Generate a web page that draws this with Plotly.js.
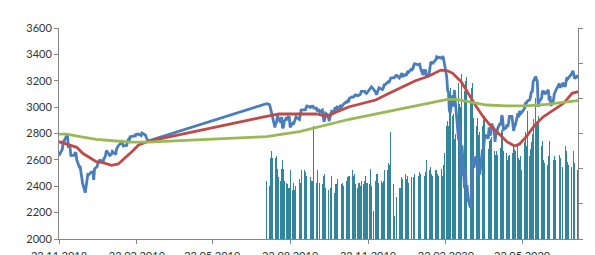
<!DOCTYPE html>
<html>
<head>
<meta charset="utf-8">
<script src="https://cdn.plot.ly/plotly-3.0.1.min.js"></script>
<style>html,body{margin:0;padding:0;background:#fff;}#chart{width:595px;height:255px;}</style>
</head>
<body>
<div id="chart"></div>
<script>
// ---- Data ----
// Price (first stretch)
const priceDates1 = ['2018-11-23','2018-11-26','2018-11-27','2018-11-28','2018-11-29','2018-11-30','2018-12-03','2018-12-04','2018-12-06','2018-12-07','2018-12-10','2018-12-11','2018-12-12','2018-12-13','2018-12-14','2018-12-17','2018-12-18','2018-12-19','2018-12-20','2018-12-21','2018-12-24','2018-12-26','2018-12-27','2018-12-28','2018-12-31','2019-01-02','2019-01-03','2019-01-04','2019-01-07','2019-01-08','2019-01-09','2019-01-10','2019-01-11','2019-01-14','2019-01-15','2019-01-16','2019-01-17','2019-01-18','2019-01-22','2019-01-23','2019-01-24','2019-01-25','2019-01-28','2019-01-29','2019-01-30','2019-01-31','2019-02-01','2019-02-04','2019-02-05','2019-02-06','2019-02-07','2019-02-08','2019-02-11','2019-02-12','2019-02-13','2019-02-14','2019-02-15','2019-02-19','2019-02-20','2019-02-21','2019-02-22','2019-02-25','2019-02-26','2019-02-27','2019-02-28','2019-03-01','2019-03-04','2019-03-05','2019-03-06','2019-03-07','2019-03-08'];
const priceVals1 = [2633,2673,2682,2744,2738,2760,2790,2700,2696,2633,2638,2636,2651,2650,2600,2546,2546,2507,2467,2417,2351,2468,2489,2486,2507,2510,2448,2532,2550,2574,2585,2597,2596,2583,2610,2616,2636,2671,2633,2639,2643,2665,2644,2641,2682,2704,2707,2725,2738,2732,2706,2708,2709,2745,2754,2746,2776,2780,2784,2775,2793,2796,2793,2792,2784,2804,2792,2789,2771,2749,2743];

// Second stretch: trading days shared by price and volume
const dates2 = ['2019-07-26','2019-07-29','2019-07-30','2019-07-31','2019-08-01','2019-08-02','2019-08-05','2019-08-06','2019-08-07','2019-08-08','2019-08-09','2019-08-12','2019-08-13','2019-08-14','2019-08-15','2019-08-16','2019-08-19','2019-08-20','2019-08-21','2019-08-22','2019-08-23','2019-08-26','2019-08-27','2019-08-28','2019-08-29','2019-08-30','2019-09-03','2019-09-04','2019-09-05','2019-09-06','2019-09-09','2019-09-10','2019-09-11','2019-09-12','2019-09-13','2019-09-16','2019-09-17','2019-09-18','2019-09-19','2019-09-20','2019-09-23','2019-09-24','2019-09-25','2019-09-26','2019-09-27','2019-09-30','2019-10-01','2019-10-02','2019-10-03','2019-10-04','2019-10-07','2019-10-08','2019-10-09','2019-10-10','2019-10-11','2019-10-14','2019-10-15','2019-10-16','2019-10-17','2019-10-18','2019-10-21','2019-10-22','2019-10-23','2019-10-24','2019-10-25','2019-10-28','2019-10-29','2019-10-30','2019-10-31','2019-11-01','2019-11-04','2019-11-05','2019-11-06','2019-11-07','2019-11-08','2019-11-11','2019-11-12','2019-11-13','2019-11-14','2019-11-15','2019-11-18','2019-11-19','2019-11-20','2019-11-21','2019-11-22','2019-11-25','2019-11-26','2019-11-27','2019-11-29','2019-12-02','2019-12-03','2019-12-04','2019-12-05','2019-12-06','2019-12-09','2019-12-10','2019-12-11','2019-12-12','2019-12-13','2019-12-16','2019-12-17','2019-12-18','2019-12-19','2019-12-20','2019-12-23','2019-12-24','2019-12-26','2019-12-27','2019-12-30','2019-12-31','2020-01-02','2020-01-03','2020-01-06','2020-01-07','2020-01-08','2020-01-09','2020-01-10','2020-01-13','2020-01-14','2020-01-15','2020-01-16','2020-01-17','2020-01-21','2020-01-22','2020-01-23','2020-01-24','2020-01-27','2020-01-28','2020-01-29','2020-01-30','2020-01-31','2020-02-03','2020-02-04','2020-02-05','2020-02-06','2020-02-07','2020-02-10','2020-02-11','2020-02-12','2020-02-13','2020-02-14','2020-02-18','2020-02-19','2020-02-20','2020-02-21','2020-02-24','2020-02-25','2020-02-26','2020-02-27','2020-02-28','2020-03-02','2020-03-03','2020-03-04','2020-03-05','2020-03-06','2020-03-09','2020-03-10','2020-03-11','2020-03-12','2020-03-13','2020-03-16','2020-03-17','2020-03-18','2020-03-19','2020-03-20','2020-03-23','2020-03-24','2020-03-25','2020-03-26','2020-03-27','2020-03-30','2020-03-31','2020-04-01','2020-04-02','2020-04-03','2020-04-06','2020-04-07','2020-04-08','2020-04-09','2020-04-13','2020-04-14','2020-04-15','2020-04-16','2020-04-17','2020-04-20','2020-04-21','2020-04-22','2020-04-23','2020-04-24','2020-04-27','2020-04-28','2020-04-29','2020-04-30','2020-05-01','2020-05-04','2020-05-05','2020-05-06','2020-05-07','2020-05-08','2020-05-11','2020-05-12','2020-05-13','2020-05-14','2020-05-15','2020-05-18','2020-05-19','2020-05-20','2020-05-21','2020-05-22','2020-05-26','2020-05-27','2020-05-28','2020-05-29','2020-06-01','2020-06-02','2020-06-03','2020-06-04','2020-06-05','2020-06-08','2020-06-09','2020-06-10','2020-06-11','2020-06-12','2020-06-15','2020-06-16','2020-06-17','2020-06-18','2020-06-19','2020-06-22','2020-06-23','2020-06-24','2020-06-25','2020-06-26','2020-06-29','2020-06-30','2020-07-01','2020-07-02','2020-07-06','2020-07-07','2020-07-08','2020-07-09','2020-07-10','2020-07-13','2020-07-14','2020-07-15','2020-07-16','2020-07-17','2020-07-20','2020-07-21','2020-07-22','2020-07-23','2020-07-24','2020-07-27','2020-07-28'];
const priceVals2 = [3026,3021,3013,2980,2954,2932,2845,2882,2884,2938,2919,2883,2926,2840,2848,2889,2924,2900,2925,2923,2847,2878,2869,2888,2924,2926,2906,2938,2977,2979,2979,2979,3000,3009,3007,2998,3006,3006,3007,2992,2992,2967,2985,2977,2962,2977,2941,2888,2910,2953,2939,2893,2920,2938,2970,2966,2996,2990,2998,2986,3007,2996,3005,3010,3023,3040,3037,3047,3038,3067,3078,3075,3077,3085,3093,3087,3092,3094,3097,3120,3122,3120,3108,3104,3110,3134,3141,3154,3141,3114,3093,3113,3117,3146,3135,3133,3142,3169,3169,3192,3193,3191,3206,3221,3224,3223,3240,3240,3221,3231,3258,3235,3246,3237,3253,3275,3265,3288,3283,3289,3317,3330,3321,3321,3326,3295,3244,3276,3273,3284,3226,3249,3298,3334,3345,3328,3352,3358,3380,3374,3380,3370,3386,3373,3338,3226,3128,3116,2979,2954,3090,3003,3130,3024,2972,2747,2882,2741,2481,2711,2386,2529,2398,2409,2305,2237,2447,2476,2630,2541,2627,2585,2471,2527,2489,2664,2660,2750,2790,2762,2846,2784,2800,2875,2823,2737,2799,2798,2837,2878,2863,2940,2912,2830,2843,2868,2849,2882,2930,2930,2870,2820,2853,2864,2954,2922,2972,2949,2955,2992,3036,3030,3044,3056,3081,3123,3112,3194,3232,3207,3190,3002,3041,3067,3125,3113,3115,3098,3118,3131,3050,3084,3009,3053,3100,3116,3130,3180,3145,3169,3152,3185,3155,3197,3227,3216,3225,3251,3257,3276,3236,3216,3239,3218];
const volumes = [3.3,3.1,3.0,4.6,5.0,4.6,5.6,4.6,4.7,4.0,3.5,3.3,4.0,4.5,4.0,3.3,3.2,3.1,2.9,2.9,3.9,2.8,3.2,2.8,3.0,2.9,3.4,3.2,3.9,3.2,3.9,3.8,3.6,3.4,3.1,3.5,3.3,3.3,3.3,6.4,3.2,3.9,3.4,3.2,3.2,3.1,3.6,4.0,3.7,2.9,2.8,3.3,2.7,2.9,3.6,2.6,3.3,3.1,3.1,3.4,3.0,3.4,3.1,3.2,3.0,3.2,3.3,3.5,3.6,3.6,3.8,3.9,3.6,3.7,3.1,2.9,3.2,3.2,3.0,3.3,3.1,3.3,3.6,3.2,3.2,3.1,4.0,3.0,1.6,3.3,3.7,3.7,3.2,3.4,3.3,3.2,3.3,3.9,3.6,3.9,4.3,4.2,3.7,6.1,3.1,1.3,2.2,2.4,2.9,2.9,3.5,3.4,3.7,3.4,3.7,3.6,3.2,3.5,3.7,3.7,3.5,3.7,4.1,3.6,3.8,3.7,3.8,3.5,3.6,3.8,4.5,3.8,3.9,4.1,3.7,3.6,3.4,3.9,3.9,3.7,3.6,4.0,3.6,4.2,4.9,6.4,6.7,6.4,7.3,8.6,7.0,7.1,5.7,6.0,7.1,8.9,7.7,7.5,9.4,8.3,8.4,9.0,9.2,8.7,10.4,7.9,8.6,8.9,8.2,6.9,6.4,6.9,5.9,6.4,6.1,6.4,7.0,5.8,7.0,5.1,5.6,5.2,5.7,5.8,5.0,5.7,4.8,5.0,4.8,5.2,5.7,6.2,6.1,5.0,4.6,4.9,4.5,4.7,4.8,4.6,4.9,5.4,5.1,5.0,5.4,4.6,4.5,4.7,3.9,5.5,6.1,5.3,7.3,4.7,5.1,5.5,6.0,6.8,8.0,6.5,6.6,7.0,5.8,5.3,5.6,4.5,4.3,9.9,4.2,4.7,5.6,4.8,8.1,4.5,4.7,4.5,4.0,4.8,4.6,4.5,4.8,4.1,5.3,5.0,4.9,4.4,4.2,4.1,4.5,4.2,5.0,4.3,3.9,4.2];

// Moving averages (read at intervals)
const redDates = ['2018-11-23','2018-12-02','2018-12-14','2018-12-21','2018-12-30','2019-01-06','2019-01-14','2019-01-24','2019-02-01','2019-02-09','2019-02-17','2019-02-25','2019-03-08','2019-07-26','2019-07-30','2019-08-10','2019-09-03','2019-09-23','2019-10-06','2019-10-16','2019-11-01','2019-11-16','2019-12-02','2019-12-18','2020-01-03','2020-01-18','2020-02-03','2020-02-17','2020-02-25','2020-03-02','2020-03-12','2020-03-20','2020-03-30','2020-04-07','2020-04-15','2020-04-25','2020-05-05','2020-05-14','2020-05-20','2020-05-28','2020-06-07','2020-06-17','2020-06-29','2020-07-11','2020-07-21','2020-07-28'];
const redVals = [2738,2720,2695,2650,2612,2586,2579,2559,2569,2612,2662,2713,2740,2930,2935,2948,2948,2948,2930,2962,3003,3029,3054,3105,3155,3200,3236,3281,3275,3256,3193,3105,3003,2927,2864,2801,2738,2705,2720,2776,2864,2927,2978,3029,3105,3117];
const greenDates = ['2018-11-23','2018-12-02','2018-12-18','2019-01-06','2019-01-26','2019-02-15','2019-03-08','2019-07-26','2019-09-03','2019-09-23','2019-11-01','2019-12-10','2020-01-18','2020-02-11','2020-02-25','2020-03-06','2020-03-22','2020-04-11','2020-05-05','2020-05-28','2020-06-21','2020-07-11','2020-07-28'];
const greenVals = [2796,2796,2776,2756,2745,2735,2735,2777,2814,2847,2908,2958,3009,3041,3059,3059,3041,3016,3009,3009,3021,3034,3049];

// ---- Chart ----
const axisColor = '#868686';
const tickFont = {family: 'Lato, "Open Sans", sans-serif', size: 11, color: '#333333'};

const traces = [
  {type: 'bar', x: dates2, y: volumes, yaxis: 'y', marker: {color: '#31859C', line: {width: 0}}, width: 0.95 * 86400000, hoverinfo: 'skip'},
  {type: 'scatter', mode: 'lines', x: priceDates1.concat(dates2), y: priceVals1.concat(priceVals2), yaxis: 'y2', line: {color: '#4A7EBB', width: 2.8}},
  {type: 'scatter', mode: 'lines', x: redDates, y: redVals, yaxis: 'y2', line: {color: '#BE4B48', width: 2.8}},
  {type: 'scatter', mode: 'lines', x: greenDates, y: greenVals, yaxis: 'y2', line: {color: '#98B954', width: 2.8}}
];

const layout = {
  width: 595, height: 255,
  margin: {l: 59, r: 17, t: 28, b: 16, pad: 0},
  paper_bgcolor: '#ffffff', plot_bgcolor: '#ffffff',
  showlegend: false,
  bargap: 0,
  xaxis: {type: 'date', range: ['2018-11-23', '2020-07-28'], tick0: '2018-11-23', dtick: 'M3', tickformat: '%d.%m.%Y',
          ticks: 'outside', ticklen: 4, tickcolor: axisColor, showline: true, linecolor: axisColor, linewidth: 1,
          ticklabelstandoff: 3,
          showgrid: false, zeroline: false, tickfont: tickFont},
  yaxis: {side: 'right', range: [0, 12], dtick: 2, showticklabels: false, ticks: 'outside', ticklen: 4, tickcolor: axisColor,
          showline: true, linecolor: axisColor, showgrid: false, zeroline: false},
  yaxis2: {overlaying: 'y', side: 'left', range: [2000, 3600], dtick: 200, ticks: 'outside', ticklen: 4, tickcolor: axisColor,
           showline: true, linecolor: axisColor, showgrid: false, zeroline: false, tickfont: tickFont}
};

Plotly.newPlot('chart', traces, layout, {staticPlot: true, displayModeBar: false});
</script>
</body>
</html>
